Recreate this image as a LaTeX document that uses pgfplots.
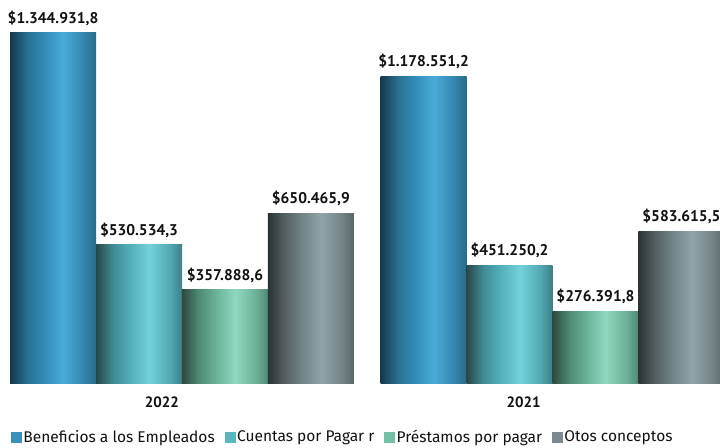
\documentclass[border=0pt]{standalone}
\usepackage{fontspec}
\setmainfont{PT Sans}
\newfontfamily\fira{Fira Sans}
\usepackage{pgfplots}
\pgfplotsset{compat=1.18}

% horizontal gradients, bar fits 25bp..75bp
\pgfdeclarehorizontalshading{bluebar}{100bp}{rgb(0bp)=(0.08,0.22,0.29); rgb(25bp)=(0.08,0.22,0.29); rgb(35bp)=(0.16,0.44,0.57); rgb(45bp)=(0.20,0.55,0.72); rgb(56bp)=(0.29,0.67,0.85); rgb(68bp)=(0.20,0.52,0.68); rgb(75bp)=(0.16,0.42,0.54); rgb(100bp)=(0.16,0.42,0.54)}
\pgfdeclarehorizontalshading{tealbar}{100bp}{rgb(0bp)=(0.16,0.28,0.29); rgb(25bp)=(0.16,0.28,0.29); rgb(35bp)=(0.25,0.55,0.59); rgb(45bp)=(0.33,0.69,0.73); rgb(56bp)=(0.45,0.82,0.85); rgb(68bp)=(0.32,0.66,0.70); rgb(75bp)=(0.24,0.50,0.53); rgb(100bp)=(0.24,0.50,0.53)}
\pgfdeclarehorizontalshading{greenbar}{100bp}{rgb(0bp)=(0.17,0.29,0.25); rgb(25bp)=(0.17,0.29,0.25); rgb(35bp)=(0.31,0.55,0.46); rgb(45bp)=(0.42,0.70,0.60); rgb(56bp)=(0.56,0.85,0.75); rgb(68bp)=(0.42,0.69,0.59); rgb(75bp)=(0.31,0.54,0.46); rgb(100bp)=(0.31,0.54,0.46)}
\pgfdeclarehorizontalshading{graybar}{100bp}{rgb(0bp)=(0.17,0.20,0.21); rgb(25bp)=(0.17,0.20,0.21); rgb(35bp)=(0.33,0.38,0.39); rgb(45bp)=(0.45,0.52,0.53); rgb(56bp)=(0.57,0.64,0.66); rgb(68bp)=(0.45,0.52,0.53); rgb(75bp)=(0.34,0.40,0.41); rgb(100bp)=(0.34,0.40,0.41)}

\definecolor{legblue}{HTML}{3891B8}
\definecolor{legteal}{HTML}{5AB7BF}
\definecolor{leggreen}{HTML}{72C1A5}
\definecolor{leggray}{HTML}{7A8A8E}
\definecolor{txt}{HTML}{111111}

\begin{document}
\begin{tikzpicture}
\begin{axis}[
    at={(0,0)}, anchor=south west,
    scale only axis,
    width=720bp, height=383bp,
    xmin=-0.4912, xmax=1.4521,
    ymin=0, ymax=1471740,
    ybar, bar width=0.2321,
    axis line style={draw=none},
    ytick=\empty,
    xtick={-0.054,0.922},
    xticklabels={2022,{\raisebox{-5bp}{2021}}},
    major tick length=0pt,
    xticklabel style={font=\fontsize{15bp}{18bp}\selectfont\bfseries, text=txt, yshift=-10bp},
    nodes near coords,
    point meta=explicit symbolic,
    every node near coord/.append style={font=\fontsize{15.5bp}{19bp}\selectfont\bfseries, text=txt, anchor=south, yshift=4bp},
    legend style={at={(0.011,-0.141)}, anchor=west, draw=none, fill=none,
        legend columns=4, font=\fontsize{15.5bp}{18bp}\fira, text=txt,
        /tikz/every even column/.append style={column sep=8bp}},
    legend image code/.code={\fill[#1] (0bp,-5bp) rectangle (10bp,5bp);},
    b1/.style={forget plot, draw=none, shade, shading=bluebar, bar shift=-0.348},
    b2/.style={forget plot, draw=none, shade, shading=tealbar, bar shift=-0.116},
    b3/.style={forget plot, draw=none, shade, shading=greenbar, bar shift=0.116},
    b4/.style={forget plot, draw=none, shade, shading=graybar, bar shift=0.348},
]
% one plot per bar so that every bar gets its own gradient
\addplot[b1] coordinates {(0,1344931.8) [\$1.344.931,8]};
\addplot[b1] coordinates {(1,1178551.2) [\$1.178.551,2]};
\addplot[b2] coordinates {(0,530534.3) [\$530.534,3]};
\addplot[b2] coordinates {(1,451250.2) [\$451.250,2]};
\addplot[b3] coordinates {(0,357888.6) [\$357.888,6]};
\addplot[b3] coordinates {(1,276391.8) [\$276.391,8]};
\addplot[b4] coordinates {(0,650465.9) [\$650.465,9]};
\addplot[b4] coordinates {(1,583615.5) [\$583.615,5]};

\addlegendimage{legblue}
\addlegendentry{Beneficios a los Empleados}
\addlegendimage{legteal}
\addlegendentry{Cuentas por Pagar r}
\addlegendimage{leggreen}
\addlegendentry{Préstamos por pagar}
\addlegendimage{leggray}
\addlegendentry{Otos conceptos}
\end{axis}
\pgfresetboundingbox
\useasboundingbox (0,-65bp) rectangle (720bp,383bp);
\end{tikzpicture}
\end{document}
